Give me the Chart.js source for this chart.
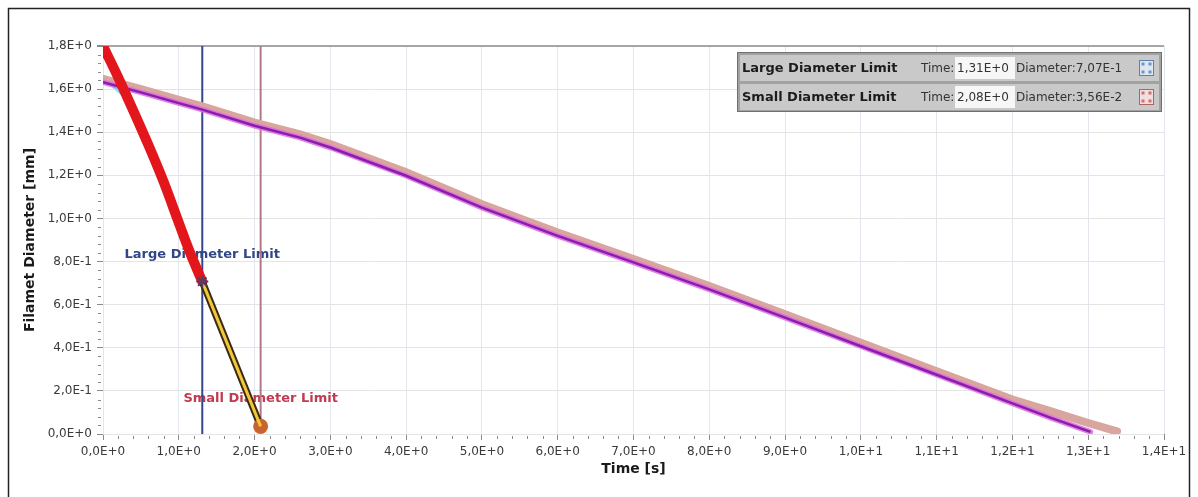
<!DOCTYPE html>
<html>
<head>
<meta charset="utf-8">
<script src="https://cdn.jsdelivr.net/npm/chart.js@4.4.1/dist/chart.umd.min.js"></script>
<style>
html,body{margin:0;padding:0;background:#fff;}
canvas{display:block;}
</style>
</head>
<body>
<canvas id="c" width="1198" height="497"></canvas>
<script>
// ---- data ----
const limitNames = ['Large Diameter Limit', 'Small Diameter Limit'];
const limitTimes = [1.31, 2.08];
const limitDiams = [0.707, 0.0356];

const redTime = [0, 0.2, 0.4, 0.6, 0.8, 1.0, 1.15, 1.31];
const redDiam = [1.80, 1.655, 1.50, 1.34, 1.17, 0.98, 0.84, 0.707];

const yellowTime = [1.31, 2.08];
const yellowDiam = [0.707, 0.0356];

const tanTime = [0, 0.5, 1.0, 1.31, 2.0, 2.6, 3, 4, 5, 6, 7, 8, 9, 10, 11, 12, 12.5, 13, 13.38];
const tanDiam = [1.648, 1.60, 1.55, 1.52, 1.445, 1.39, 1.345, 1.214, 1.066, 0.935, 0.812, 0.687, 0.556, 0.423, 0.291, 0.16, 0.106, 0.051, 0.012];

const purpleTime = [0, 0.5, 1.0, 1.31, 2.0, 2.6, 3, 4, 5, 6, 7, 8, 9, 10, 11, 12, 12.5, 13.03];
const purpleDiam = [1.632, 1.585, 1.535, 1.505, 1.43, 1.375, 1.329, 1.198, 1.05, 0.919, 0.796, 0.671, 0.54, 0.407, 0.275, 0.142, 0.076, 0.01];

const cyanTime = [0, 0.32];
const cyanDiam = [1.655, 1.555];

const xTitle = 'Time [s]';
const yTitle = 'Filamet Diameter [mm]';

// ---- helpers ----
function sci(v, d) {
  d = (d === undefined) ? 1 : d;
  if (Math.abs(v) < 1e-9) return (0).toFixed(d).replace('.', ',') + 'E+0';
  let e = Math.floor(Math.log10(Math.abs(v)) + 1e-9);
  let m = v / Math.pow(10, e);
  let s = m.toFixed(d);
  if (parseFloat(s) >= 10) { e++; s = (v / Math.pow(10, e)).toFixed(d); }
  return s.replace('.', ',') + 'E' + (e >= 0 ? '+' : '-') + Math.abs(e);
}
function pts(xs, ys) { return xs.map((x, i) => ({x: x, y: ys[i]})); }

const frame = {
  id: 'frame',
  beforeDraw(chart) {
    const ctx = chart.ctx;
    ctx.save();
    ctx.fillStyle = '#fff';
    ctx.fillRect(0, 0, chart.width, chart.height);
    ctx.strokeStyle = '#222';
    ctx.lineWidth = 1.5;
    ctx.beginPath();
    ctx.moveTo(8.5, chart.height + 2);
    ctx.lineTo(8.5, 8.5);
    ctx.lineTo(1189.5, 8.5);
    ctx.lineTo(1189.5, chart.height + 2);
    ctx.stroke();
    ctx.restore();
  }
};

const minorTicks = {
  id: 'minorTicks',
  afterDraw(chart) {
    const {ctx, chartArea: a} = chart;
    const x = chart.scales.x, y = chart.scales.y;
    ctx.save();
    ctx.strokeStyle = '#8a8a8a';
    ctx.lineWidth = 1;
    ctx.beginPath();
    for (let i = 0; i <= 70; i++) {
      if (i % 5 === 0) continue;
      const px = Math.round(x.getPixelForValue(i * 0.2)) + 0.5;
      ctx.moveTo(px, a.bottom + 2); ctx.lineTo(px, a.bottom + 5);
    }
    for (let i = 0; i <= 45; i++) {
      if (i % 5 === 0) continue;
      const py = Math.round(y.getPixelForValue(i * 0.04)) + 0.5;
      ctx.moveTo(a.left - 5, py); ctx.lineTo(a.left - 2, py);
    }
    ctx.stroke();
    ctx.restore();
  }
};

const limitLabels = {
  id: 'limitLabels',
  beforeDatasetsDraw(chart) {
    const ctx = chart.ctx;
    const x = chart.scales.x, y = chart.scales.y;
    const labelY = [0.83, 0.162];
    const colors = ['#2f4689', '#c23a4e'];
    ctx.save();
    ctx.font = 'bold 13px "DejaVu Sans"';
    ctx.textAlign = 'center';
    ctx.textBaseline = 'middle';
    limitNames.forEach((n, i) => {
      ctx.fillStyle = colors[i];
      ctx.fillText(n, x.getPixelForValue(limitTimes[i]), y.getPixelForValue(labelY[i]));
    });
    ctx.restore();
  }
};

const limitTable = {
  id: 'limitTable',
  afterDraw(chart) {
    const ctx = chart.ctx;
    ctx.save();
    const bx = 737, by = 52, bw = 425, bh = 60;
    ctx.fillStyle = '#a2a2a2';
    ctx.fillRect(bx, by, bw, bh);
    ctx.strokeStyle = '#707070';
    ctx.lineWidth = 1;
    ctx.strokeRect(bx + 0.5, by + 0.5, bw - 1, bh - 1);
    const rowTop = [55, 84];
    const iconFill = ['#dfe8f2', '#f2dede'];
    const iconStroke = ['#5f7fae', '#b36262'];
    const iconDot = ['#6f95c8', '#d07070'];
    limitNames.forEach((n, i) => {
      const ry = rowTop[i], rh = 26, cy = ry + rh / 2;
      ctx.fillStyle = '#c9c9c9';
      ctx.fillRect(bx + 3, ry, bw - 6, rh);
      ctx.fillStyle = '#f7f7f7';
      ctx.fillRect(955, ry + 2, 60, rh - 4);
      ctx.fillStyle = '#1c1c1c';
      ctx.textBaseline = 'middle';
      ctx.textAlign = 'left';
      ctx.font = 'bold 13px "DejaVu Sans"';
      ctx.fillText(n, 742, cy + 1);
      ctx.font = '12px "DejaVu Sans"';
      ctx.fillStyle = '#333';
      ctx.fillText('Time:', 921, cy + 1);
      ctx.fillText(sci(limitTimes[i], 2), 957, cy + 1);
      ctx.fillText('Diameter:' + sci(limitDiams[i], 2), 1016, cy + 1);
      // icon
      ctx.fillStyle = iconFill[i];
      ctx.fillRect(1139, cy - 8, 15, 16);
      ctx.strokeStyle = iconStroke[i];
      ctx.strokeRect(1139.5, cy - 7.5, 14, 15);
      ctx.fillStyle = iconDot[i];
      [[1143, cy - 4], [1150, cy - 4], [1143, cy + 4], [1150, cy + 4]].forEach(p => {
        ctx.fillRect(p[0] - 1.5, p[1] - 1.5, 3, 3);
      });
    });
    ctx.restore();
  }
};

const lineDefaults = {type: 'line', pointRadius: 0, pointHoverRadius: 0, fill: false, showLine: true};

new Chart(document.getElementById('c'), {
  type: 'line',
  data: {
    datasets: [
      {type: 'scatter', data: [{x: limitTimes[0], y: limitDiams[0]}], pointStyle: 'star', pointRadius: 6,
       borderColor: '#5a3a62', backgroundColor: '#5a3a62', borderWidth: 2, showLine: false, order: 0},
      Object.assign({}, lineDefaults, {data: pts(yellowTime, yellowDiam), borderColor: '#f2c83a', borderWidth: 3, order: 1}),
      Object.assign({}, lineDefaults, {data: pts(yellowTime, yellowDiam), borderColor: '#3a2a12', borderWidth: 7,
       pointRadius: c => c.dataIndex === yellowTime.length - 1 ? 4 : 0, pointBackgroundColor: '#c8642e', pointBorderColor: '#c8642e', order: 2}),
      Object.assign({}, lineDefaults, {data: pts(redTime, redDiam), borderColor: '#e3161b', borderWidth: 10, tension: 0.3, cubicInterpolationMode: 'monotone', borderCapStyle: 'round', order: 3}),
      Object.assign({}, lineDefaults, {data: pts(purpleTime, purpleDiam), borderColor: '#8a1cae', borderWidth: 2.5, order: 4}),
      Object.assign({}, lineDefaults, {data: pts(purpleTime, purpleDiam), borderColor: 'rgba(222,112,222,0.9)', borderWidth: 5.5, borderCapStyle: 'round', order: 5}),
      Object.assign({}, lineDefaults, {data: pts(tanTime, tanDiam), borderColor: '#d8a69e', borderWidth: 8, borderCapStyle: 'round', order: 6}),
      Object.assign({}, lineDefaults, {data: pts(cyanTime, cyanDiam), borderColor: '#86e2f0', borderWidth: 3, order: 7}),
      Object.assign({}, lineDefaults, {data: [{x: limitTimes[0], y: 0}, {x: limitTimes[0], y: 1.8}], borderColor: '#34468a', borderWidth: 2, order: 8}),
      Object.assign({}, lineDefaults, {data: [{x: limitTimes[1], y: 0}, {x: limitTimes[1], y: 1.8}], borderColor: '#b07a86', borderWidth: 2, order: 9})
    ]
  },
  options: {
    responsive: false,
    animation: false,
    devicePixelRatio: 1,
    layout: {padding: {left: 0, right: 34, top: 46, bottom: 0}},
    plugins: {legend: {display: false}, tooltip: {enabled: false}},
    events: [],
    scales: {
      x: {
        type: 'linear', min: 0, max: 14,
        afterFit: s => { s.height = 63; },
        border: {display: false},
        grid: {color: '#e3e6ec', lineWidth: 1, tickLength: 6, tickColor: '#8a8a8a'},
        ticks: {stepSize: 1, padding: 5, color: '#3a3a3a', font: {family: 'DejaVu Sans', size: 12},
                maxRotation: 0, autoSkip: false, callback: v => sci(v, 1)},
        title: {display: true, text: xTitle, color: '#1a1a1a', font: {family: 'DejaVu Sans', size: 14, weight: 'bold'},
                padding: {top: 0, bottom: 19}}
      },
      y: {
        type: 'linear', min: 0, max: 1.8,
        afterFit: s => { s.width = 103; },
        border: {display: false},
        grid: {
          color: c => (c.tick && Math.abs(c.tick.value - 1.8) < 1e-6) ? '#a6a6a6' : '#e4e4e4',
          lineWidth: c => (c.tick && Math.abs(c.tick.value - 1.8) < 1e-6) ? 2 : 1,
          tickLength: 6, tickColor: '#8a8a8a'
        },
        ticks: {stepSize: 0.2, padding: 5, color: '#3a3a3a', font: {family: 'DejaVu Sans', size: 12},
                autoSkip: false, callback: v => sci(v, 1)},
        title: {display: true, text: yTitle, color: '#1a1a1a', font: {family: 'DejaVu Sans', size: 14, weight: 'bold'},
                padding: {top: 22, bottom: 0}}
      }
    }
  },
  plugins: [frame, limitLabels, minorTicks, limitTable]
});
</script>
</body>
</html>
